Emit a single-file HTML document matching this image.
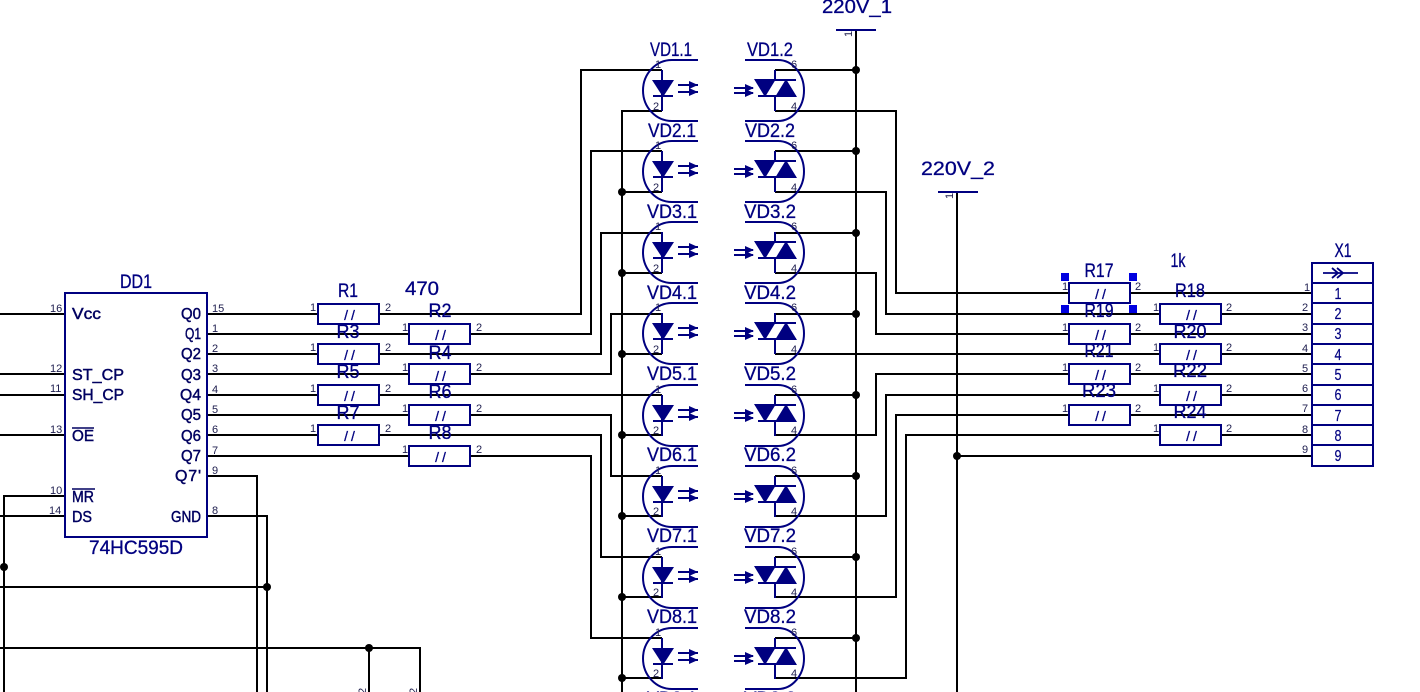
<!DOCTYPE html>
<html><head><meta charset="utf-8"><style>
html,body{margin:0;padding:0;background:#fff;width:1420px;height:692px;overflow:hidden}
svg{display:block}
text{font-family:"Liberation Sans",sans-serif}
.w{stroke:#000;stroke-width:2;fill:none}
.n{stroke:#000080;stroke-width:2;fill:none}
.nb{fill:#000080;stroke:none}
.l{fill:#000080;font-size:19px;text-anchor:middle;stroke:#000080;stroke-width:.3}
.c{fill:#000060;font-size:16px;stroke:#000060;stroke-width:.45}
.p{fill:#202050;font-size:11px}
.s{fill:#000080;font-size:14px;letter-spacing:3px;text-anchor:middle;stroke:#000080;stroke-width:.3}
.x{fill:#000080;font-size:16px;text-anchor:middle;stroke:#000080;stroke-width:.2}
</style></head><body>
<svg width="1420" height="692" viewBox="0 0 1420 692" xmlns="http://www.w3.org/2000/svg">
<defs>
<g id="op">
<path class="n" d="M698 60H672A29 30.5 0 0 0 672 121H698"/>
<path class="n" d="M745 60H778A26 30.5 0 0 1 778 121H745"/>
<path class="n" d="M662 70V111M653 96H673"/>
<path class="nb" d="M652 80H674L663 97Z"/>
<path d="M678 85H698M678 92H698" stroke="#000080" stroke-width="2" fill="none"/>
<path class="nb" d="M689 81L698 85L689 89ZM689 88L698 92L689 96Z"/>
<path d="M734 88H753M734 93H753" stroke="#000080" stroke-width="2" fill="none"/>
<path class="nb" d="M745 84L754 88L745 92ZM745 89L754 93L745 97Z"/>
<path class="n" d="M775 70V80M775 96V111M755 80H796M758 96H796"/>
<path class="nb" d="M754 79H776L765 97ZM775 97H797L786 79Z"/>
</g>
<g id="r"><rect class="n" x="0" y="0" width="61" height="20" style="fill:#fff"/></g>
</defs>

<!-- wires: left side -->
<g class="w">
<path d="M0 314H65M0 374H65M0 395H65M0 435H65"/>
<path d="M65 496H4V692M65 516H0"/>
<path d="M0 587H267M0 648H420V692M369 648V692"/>
<path d="M207 476H257V692M207 516H267V692"/>
<path d="M207 314H581V70H662"/>
<path d="M207 334H591V151H662"/>
<path d="M207 354H601V233H662"/>
<path d="M207 374H611V314H662"/>
<path d="M207 395H662"/>
<path d="M207 415H611V476H662"/>
<path d="M207 435H601V557H662"/>
<path d="M207 456H591V638H662"/>
<path d="M662 111H622V692"/>
<path d="M622 192H662M622 273H662M622 354H662M622 435H662M622 516H662M622 597H662M622 678H662"/>
<!-- power -->
<path d="M856 30V692"/>
<path d="M775 70H856M775 151H856M775 233H856M775 314H856M775 395H856M775 476H856M775 557H856M775 638H856"/>
<path d="M957 192V692M957 456H1312"/>
<!-- outputs -->
<path d="M775 111H896V293H1312"/>
<path d="M775 192H886V314H1312"/>
<path d="M775 273H876V334H1312"/>
<path d="M775 354H1312"/>
<path d="M775 435H876V374H1312"/>
<path d="M775 516H886V395H1312"/>
<path d="M775 597H896V415H1312"/>
<path d="M775 678H906V435H1312"/>
</g>
<path class="n" d="M836 30H876M938 192H978"/>

<!-- junctions -->
<g fill="#000">
<circle cx="4" cy="567" r="4"/><circle cx="267" cy="587" r="4"/><circle cx="369" cy="648" r="4"/>
<circle cx="622" cy="192" r="4"/><circle cx="622" cy="273" r="4"/><circle cx="622" cy="354" r="4"/><circle cx="622" cy="435" r="4"/><circle cx="622" cy="516" r="4"/><circle cx="622" cy="597" r="4"/><circle cx="622" cy="678" r="4"/>
<circle cx="856" cy="70" r="4"/><circle cx="856" cy="151" r="4"/><circle cx="856" cy="233" r="4"/><circle cx="856" cy="314" r="4"/><circle cx="856" cy="395" r="4"/><circle cx="856" cy="476" r="4"/><circle cx="856" cy="557" r="4"/><circle cx="856" cy="638" r="4"/>
<circle cx="957" cy="456" r="4"/>
</g>

<!-- optocouplers -->
<use href="#op"/>
<use href="#op" y="81"/>
<use href="#op" y="162"/>
<use href="#op" y="243"/>
<use href="#op" y="325"/>
<use href="#op" y="406"/>
<use href="#op" y="487"/>
<use href="#op" y="568"/>

<!-- opto labels -->
<text class="l" x="671" y="56" textLength="42" lengthAdjust="spacingAndGlyphs">VD1.1</text><text class="l" x="770" y="56" textLength="46" lengthAdjust="spacingAndGlyphs">VD1.2</text>
<text class="l" x="672" y="137" textLength="48" lengthAdjust="spacingAndGlyphs">VD2.1</text><text class="l" x="770" y="137" textLength="50" lengthAdjust="spacingAndGlyphs">VD2.2</text>
<text class="l" x="672" y="218" textLength="50" lengthAdjust="spacingAndGlyphs">VD3.1</text><text class="l" x="770" y="218" textLength="52" lengthAdjust="spacingAndGlyphs">VD3.2</text>
<text class="l" x="672" y="299" textLength="50" lengthAdjust="spacingAndGlyphs">VD4.1</text><text class="l" x="770" y="299" textLength="52" lengthAdjust="spacingAndGlyphs">VD4.2</text>
<text class="l" x="672" y="380" textLength="50" lengthAdjust="spacingAndGlyphs">VD5.1</text><text class="l" x="770" y="380" textLength="52" lengthAdjust="spacingAndGlyphs">VD5.2</text>
<text class="l" x="672" y="461" textLength="50" lengthAdjust="spacingAndGlyphs">VD6.1</text><text class="l" x="770" y="461" textLength="52" lengthAdjust="spacingAndGlyphs">VD6.2</text>
<text class="l" x="672" y="542" textLength="50" lengthAdjust="spacingAndGlyphs">VD7.1</text><text class="l" x="770" y="542" textLength="52" lengthAdjust="spacingAndGlyphs">VD7.2</text>
<text class="l" x="672" y="623" textLength="50" lengthAdjust="spacingAndGlyphs">VD8.1</text><text class="l" x="770" y="623" textLength="52" lengthAdjust="spacingAndGlyphs">VD8.2</text>
<text class="l" x="672" y="705" textLength="50" lengthAdjust="spacingAndGlyphs">VD9.1</text><text class="l" x="770" y="705" textLength="52" lengthAdjust="spacingAndGlyphs">VD9.2</text>

<!-- opto pins -->
<g class="p">
<text x="655" y="68">1</text><text x="653" y="110">2</text><text x="791" y="68">6</text><text x="791" y="110">4</text>
<text x="655" y="149">1</text><text x="653" y="191">2</text><text x="791" y="149">6</text><text x="791" y="191">4</text>
<text x="655" y="230">1</text><text x="653" y="272">2</text><text x="791" y="230">6</text><text x="791" y="272">4</text>
<text x="655" y="311">1</text><text x="653" y="353">2</text><text x="791" y="311">6</text><text x="791" y="353">4</text>
<text x="655" y="393">1</text><text x="653" y="434">2</text><text x="791" y="393">6</text><text x="791" y="434">4</text>
<text x="655" y="474">1</text><text x="653" y="515">2</text><text x="791" y="474">6</text><text x="791" y="515">4</text>
<text x="655" y="555">1</text><text x="653" y="596">2</text><text x="791" y="555">6</text><text x="791" y="596">4</text>
<text x="655" y="636">1</text><text x="653" y="677">2</text><text x="791" y="636">6</text><text x="791" y="677">4</text>
</g>

<!-- power labels -->
<text class="l" x="857" y="13" textLength="70" lengthAdjust="spacingAndGlyphs">220V_1</text>
<text class="l" x="958" y="175" textLength="74" lengthAdjust="spacingAndGlyphs">220V_2</text>
<text class="p" transform="translate(852,37) rotate(-90)" font-size="9">1</text>
<text class="p" transform="translate(953,199) rotate(-90)" font-size="9">1</text>
<text class="p" transform="translate(366,694) rotate(-90)">2</text>
<text class="p" transform="translate(417,694) rotate(-90)">2</text>

<!-- DD1 -->
<rect class="n" x="65" y="293" width="142" height="244"/>
<text class="l" x="136" y="288" textLength="32" lengthAdjust="spacingAndGlyphs">DD1</text>
<text class="l" x="136" y="554" textLength="94" lengthAdjust="spacingAndGlyphs">74HC595D</text>
<g class="c">
<text x="72" y="319" textLength="29" lengthAdjust="spacingAndGlyphs">Vcc</text>
<text x="72" y="380" textLength="52" lengthAdjust="spacingAndGlyphs">ST_CP</text>
<text x="72" y="400" textLength="52" lengthAdjust="spacingAndGlyphs">SH_CP</text>
<text x="72" y="441" textLength="22" lengthAdjust="spacingAndGlyphs">OE</text>
<text x="72" y="502" textLength="22" lengthAdjust="spacingAndGlyphs">MR</text>
<text x="72" y="522" textLength="20" lengthAdjust="spacingAndGlyphs">DS</text>
<text x="181" y="319" textLength="20" lengthAdjust="spacingAndGlyphs">Q0</text>
<text x="185" y="339" textLength="16" lengthAdjust="spacingAndGlyphs">Q1</text>
<text x="181" y="359" textLength="20" lengthAdjust="spacingAndGlyphs">Q2</text>
<text x="181" y="380" textLength="20" lengthAdjust="spacingAndGlyphs">Q3</text>
<text x="180" y="400" textLength="21" lengthAdjust="spacingAndGlyphs">Q4</text>
<text x="181" y="420" textLength="20" lengthAdjust="spacingAndGlyphs">Q5</text>
<text x="181" y="441" textLength="20" lengthAdjust="spacingAndGlyphs">Q6</text>
<text x="181" y="461" textLength="20" lengthAdjust="spacingAndGlyphs">Q7</text>
<text x="175" y="481" textLength="26" lengthAdjust="spacing">Q7'</text>
<text x="171" y="522" textLength="30" lengthAdjust="spacingAndGlyphs">GND</text>
</g>
<path d="M72 428H94M72 489H95" stroke="#000060" stroke-width="1.5"/>
<g class="p">
<text x="50" y="312">16</text><text x="50" y="372">12</text><text x="50" y="392">11</text><text x="50" y="433">13</text><text x="50" y="494">10</text><text x="49" y="514">14</text>
<text x="212" y="312">15</text><text x="212" y="332">1</text><text x="212" y="352">2</text><text x="212" y="372">3</text><text x="212" y="393">4</text><text x="212" y="413">5</text><text x="212" y="433">6</text><text x="212" y="454">7</text><text x="212" y="474">9</text><text x="212" y="514">8</text>
</g>

<!-- resistors -->
<use href="#r" x="318" y="304"/><use href="#r" x="409" y="324"/><use href="#r" x="318" y="344"/><use href="#r" x="409" y="364"/><use href="#r" x="318" y="385"/><use href="#r" x="409" y="405"/><use href="#r" x="318" y="425"/><use href="#r" x="409" y="446"/>
<use href="#r" x="1069" y="283"/><use href="#r" x="1160" y="304"/><use href="#r" x="1069" y="324"/><use href="#r" x="1160" y="344"/><use href="#r" x="1069" y="364"/><use href="#r" x="1160" y="385"/><use href="#r" x="1069" y="405"/><use href="#r" x="1160" y="425"/>

<g class="s">
<text x="351" y="320">//</text><text x="442" y="340">//</text><text x="351" y="360">//</text><text x="442" y="381">//</text><text x="351" y="401">//</text><text x="442" y="421">//</text><text x="351" y="441">//</text><text x="442" y="462">//</text>
<text x="1102" y="299">//</text><text x="1193" y="320">//</text><text x="1102" y="340">//</text><text x="1193" y="360">//</text><text x="1102" y="380">//</text><text x="1193" y="401">//</text><text x="1102" y="421">//</text><text x="1193" y="441">//</text>
</g>

<g class="l">
<text x="348" y="297" textLength="20" lengthAdjust="spacingAndGlyphs">R1</text>
<text x="422" y="295" textLength="34" lengthAdjust="spacingAndGlyphs">470</text>
<text x="440" y="317" textLength="23" lengthAdjust="spacingAndGlyphs">R2</text>
<text x="348" y="338" textLength="23" lengthAdjust="spacingAndGlyphs">R3</text>
<text x="440" y="359" textLength="23" lengthAdjust="spacingAndGlyphs">R4</text>
<text x="348" y="378" textLength="23" lengthAdjust="spacingAndGlyphs">R5</text>
<text x="440" y="398" textLength="23" lengthAdjust="spacingAndGlyphs">R6</text>
<text x="348" y="419" textLength="23" lengthAdjust="spacingAndGlyphs">R7</text>
<text x="440" y="439" textLength="23" lengthAdjust="spacingAndGlyphs">R8</text>
<text x="1099" y="277" textLength="29" lengthAdjust="spacingAndGlyphs">R17</text>
<text x="1190" y="297" textLength="30" lengthAdjust="spacingAndGlyphs">R18</text>
<text x="1099" y="317" textLength="29" lengthAdjust="spacingAndGlyphs">R19</text>
<text x="1190" y="338" textLength="33" lengthAdjust="spacingAndGlyphs">R20</text>
<text x="1099" y="357" textLength="29" lengthAdjust="spacingAndGlyphs">R21</text>
<text x="1190" y="377" textLength="34" lengthAdjust="spacingAndGlyphs">R22</text>
<text x="1099" y="397" textLength="34" lengthAdjust="spacingAndGlyphs">R23</text>
<text x="1190" y="418" textLength="33" lengthAdjust="spacingAndGlyphs">R24</text>
<text x="1178" y="267" textLength="15" lengthAdjust="spacingAndGlyphs">1k</text>
</g>

<g class="p">
<text x="310" y="311">1</text><text x="385" y="311">2</text>
<text x="402" y="331">1</text><text x="476" y="331">2</text>
<text x="310" y="351">1</text><text x="385" y="351">2</text>
<text x="402" y="371">1</text><text x="476" y="371">2</text>
<text x="310" y="392">1</text><text x="385" y="392">2</text>
<text x="402" y="412">1</text><text x="476" y="412">2</text>
<text x="310" y="432">1</text><text x="385" y="432">2</text>
<text x="402" y="453">1</text><text x="476" y="453">2</text>
<text x="1062" y="290">1</text><text x="1135" y="290">2</text>
<text x="1153" y="311">1</text><text x="1226" y="311">2</text>
<text x="1062" y="331">1</text><text x="1135" y="331">2</text>
<text x="1153" y="351">1</text><text x="1226" y="351">2</text>
<text x="1062" y="371">1</text><text x="1135" y="371">2</text>
<text x="1153" y="392">1</text><text x="1226" y="392">2</text>
<text x="1062" y="412">1</text><text x="1135" y="412">2</text>
<text x="1153" y="432">1</text><text x="1226" y="432">2</text>
</g>

<!-- selection handles -->
<g fill="#0000e0">
<rect x="1061" y="273" width="8" height="8"/><rect x="1129" y="273" width="8" height="8"/>
<rect x="1061" y="305" width="8" height="8"/><rect x="1129" y="305" width="8" height="8"/>
</g>

<!-- X1 -->
<rect x="1312" y="263" width="61" height="203" fill="#fff" stroke="#000080" stroke-width="2"/>
<path class="n" d="M1312 283H1373M1312 303H1373M1312 324H1373M1312 344H1373M1312 364H1373M1312 385H1373M1312 405H1373M1312 425H1373M1312 445H1373"/>
<path d="M1323 273H1358M1332 268L1338 273L1332 278M1337 268L1343 273L1337 278" stroke="#000080" stroke-width="1.8" fill="none"/>
<text class="l" x="1343" y="257" textLength="17" lengthAdjust="spacingAndGlyphs">X1</text>
<g class="x">
<text x="1338" y="299" textLength="7" lengthAdjust="spacingAndGlyphs">1</text><text x="1338" y="319" textLength="7" lengthAdjust="spacingAndGlyphs">2</text><text x="1338" y="339" textLength="7" lengthAdjust="spacingAndGlyphs">3</text><text x="1338" y="360" textLength="7" lengthAdjust="spacingAndGlyphs">4</text><text x="1338" y="380" textLength="7" lengthAdjust="spacingAndGlyphs">5</text><text x="1338" y="400" textLength="7" lengthAdjust="spacingAndGlyphs">6</text><text x="1338" y="421" textLength="7" lengthAdjust="spacingAndGlyphs">7</text><text x="1338" y="441" textLength="7" lengthAdjust="spacingAndGlyphs">8</text><text x="1338" y="461" textLength="7" lengthAdjust="spacingAndGlyphs">9</text>
</g>
<g class="p">
<text x="1304" y="291">1</text><text x="1302" y="311">2</text><text x="1302" y="331">3</text><text x="1302" y="352">4</text><text x="1302" y="372">5</text><text x="1302" y="392">6</text><text x="1302" y="412">7</text><text x="1302" y="433">8</text><text x="1302" y="453">9</text>
</g>
</svg>
</body></html>
